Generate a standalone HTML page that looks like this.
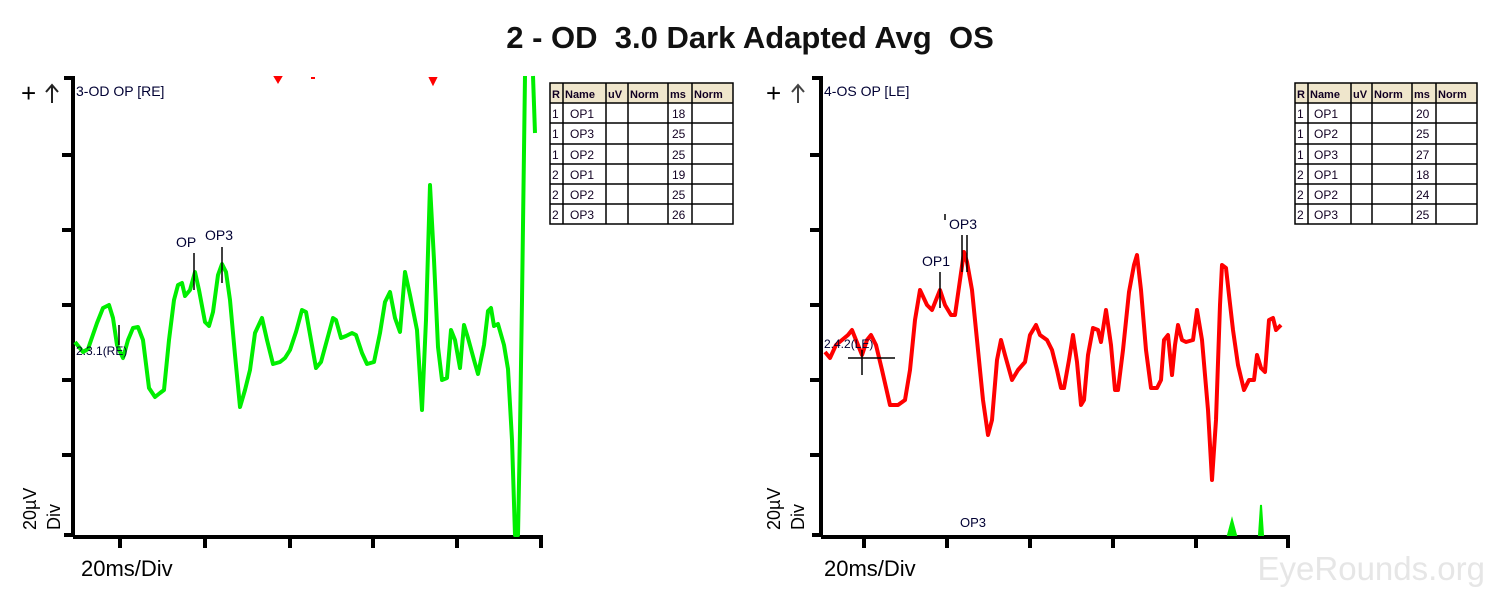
<!DOCTYPE html>
<html><head><meta charset="utf-8"><style>
body{margin:0;background:#fff;width:1500px;height:595px;overflow:hidden}
svg{display:block}
text{font-family:"Liberation Sans",Arial,sans-serif}
</style></head><body>
<svg width="1500" height="595" viewBox="0 0 1500 595">
<text x="750" y="48" font-size="31" font-weight="bold" text-anchor="middle" fill="#111" xml:space="preserve">2 - OD&#160; 3.0 Dark Adapted Avg&#160; OS</text>

<!-- LEFT PANEL -->
<g stroke="#000" stroke-width="4" fill="none">
<path d="M64,78 H73 V535 H64"/>
<path d="M62,155 H73 M62,230 H73 M62,305 H73 M62,380 H73 M62,455 H73"/>
<path d="M73,537 H543 M120,537 V548 M205,537 V548 M290,537 V548 M373,537 V548 M457,537 V548 M541,537 V548"/>
</g>
<text x="21" y="102" font-size="26" fill="#000">+</text>
<path d="M46,92 l6,-7 l6,7 M52,85 V103" stroke="#222" stroke-width="2" fill="none"/>
<text x="76" y="96" font-size="14" fill="#003">3-OD OP [RE]</text>
<text x="81" y="576" font-size="22" fill="#000">20ms/Div</text>
<text transform="translate(36,530) rotate(-90)" font-size="18" fill="#000">20µV</text>
<text transform="translate(60,530) rotate(-90)" font-size="18" fill="#000">Div</text>
<path d="M278,82 l-3,-5 h6 z M433,84 l-3,-6 h6 z" fill="#f00" stroke="#f00" stroke-width="2"/>
<path d="M311,78 h4" stroke="#f00" stroke-width="2"/>
<polyline fill="none" stroke="#00ee00" stroke-width="4" stroke-linejoin="round" points="75,342 83,352 88,349 97,323 103,308 109,305 113,318 117,345 123,358 128,340 133,328 138,327 143,340 149,388 155,397 160,393 164,390 169,340 174,300 178,285 182,283 185,296 190,290 195,272 199,290 205,322 209,326 213,312 218,275 222,264 226,272 230,300 235,355 240,407 245,390 250,370 255,333 262,318 267,340 273,364 280,362 285,358 290,350 296,332 302,310 306,312 311,340 316,368 321,362 327,340 333,318 336,320 341,338 346,336 352,333 356,335 362,353 367,364 374,362 380,333 385,302 390,292 395,318 400,332 405,272 410,295 417,330 422,410 426,320 430,185 434,260 438,347 442,380 447,378 451,330 455,340 460,368 464,325 468,338 474,360 478,374 484,345 488,311 491,308 494,326 498,324 504,345 508,369 512,440 515,535 518,535 520,430 522,300 525,76"/>
<path d="M533,76 L535,133" stroke="#00ee00" stroke-width="4"/>
<g stroke="#000" stroke-width="1.5">
<path d="M194,253 V290 M222,247 V283 M119,325 V345"/>
</g>
<text x="176" y="247" font-size="14" fill="#003">OP</text>
<text x="205" y="240" font-size="14" fill="#003">OP3</text>
<text x="76" y="355" font-size="12" fill="#003">2.3.1(RE)</text>

<!-- LEFT TABLE -->
<g font-size="11" font-weight="bold" fill="#102">
<rect x="550" y="83" width="183" height="20" fill="#efe6cc"/>
<g stroke="#000" stroke-width="1.5" fill="none">
<rect x="550" y="83" width="183" height="141"/>
<path d="M550,103 H733 M550,123 H733 M550,144 H733 M550,164 H733 M550,184 H733 M550,204 H733"/>
<path d="M563,83 V224 M606,83 V224 M628,83 V224 M668,83 V224 M692,83 V224"/>
</g>
<text x="552" y="98">R</text><text x="565" y="98">Name</text><text x="608" y="98">uV</text><text x="630" y="98">Norm</text><text x="670" y="98">ms</text><text x="694" y="98">Norm</text>
</g>
<g font-size="12" fill="#102">
<text x="552" y="118">1</text><text x="570" y="118">OP1</text><text x="672" y="118">18</text>
<text x="552" y="138">1</text><text x="570" y="138">OP3</text><text x="672" y="138">25</text>
<text x="552" y="159">1</text><text x="570" y="159">OP2</text><text x="672" y="159">25</text>
<text x="552" y="179">2</text><text x="570" y="179">OP1</text><text x="672" y="179">19</text>
<text x="552" y="199">2</text><text x="570" y="199">OP2</text><text x="672" y="199">25</text>
<text x="552" y="219">2</text><text x="570" y="219">OP3</text><text x="672" y="219">26</text>
</g>

<!-- RIGHT PANEL -->
<g stroke="#000" stroke-width="4" fill="none">
<path d="M812,78 H821 V535 H812"/>
<path d="M810,155 H821 M810,230 H821 M810,305 H821 M810,380 H821 M810,455 H821"/>
<path d="M821,537 H1290 M864,537 V548 M947,537 V548 M1030,537 V548 M1113,537 V548 M1196,537 V548 M1288,537 V548"/>
</g>
<text x="766" y="102" font-size="26" fill="#000">+</text>
<path d="M792,92 l6,-7 l6,7 M798,85 V103" stroke="#444" stroke-width="2" fill="none"/>
<text x="824" y="96" font-size="14" fill="#003">4-OS OP [LE]</text>
<text x="824" y="576" font-size="22" fill="#000">20ms/Div</text>
<text transform="translate(780,530) rotate(-90)" font-size="18" fill="#000">20µV</text>
<text transform="translate(804,530) rotate(-90)" font-size="18" fill="#000">Div</text>
<polyline fill="none" stroke="#ff0000" stroke-width="4" stroke-linejoin="round" points="825,352 830,358 836,345 842,340 848,335 852,330 856,340 862,355 867,340 871,335 876,345 882,370 890,405 898,405 905,400 910,370 915,320 920,290 927,305 932,310 940,290 945,305 951,315 955,315 960,280 964,252 967,262 972,290 977,340 983,400 988,435 992,420 997,360 1001,340 1005,355 1012,380 1018,370 1025,362 1030,335 1036,325 1040,335 1047,340 1052,350 1057,370 1061,388 1064,388 1069,360 1073,335 1077,362 1081,405 1084,400 1088,355 1093,328 1098,330 1101,342 1106,310 1111,345 1115,390 1118,390 1123,350 1129,292 1134,265 1137,255 1141,290 1146,350 1151,388 1157,388 1161,380 1164,340 1168,335 1172,375 1175,345 1178,325 1182,340 1186,342 1193,340 1197,310 1202,340 1208,410 1212,480 1216,420 1220,305 1222,265 1226,268 1229,295 1233,330 1238,365 1244,390 1249,380 1254,380 1257,355 1261,368 1265,372 1269,320 1273,318 1276,330 1281,325"/>
<path d="M1228,535 L1232,520 L1236,535 Z M1259,535 L1261,505 L1263,535 Z" fill="#00ee00" stroke="#00ee00" stroke-width="2"/>
<g stroke="#000" stroke-width="1.5">
<path d="M940,272 V308 M962,235 V272 M967,235 V272 M848,358 H895 M862,350 V375 M945,214 V220"/>
</g>
<text x="922" y="266" font-size="14" fill="#003">OP1</text>
<text x="949" y="229" font-size="14" fill="#003">OP3</text>
<text x="824" y="348" font-size="12" fill="#003">2.4.2(LE)</text>
<text x="960" y="527" font-size="13" fill="#003">OP3</text>

<!-- RIGHT TABLE -->
<g font-size="11" font-weight="bold" fill="#102">
<rect x="1295" y="83" width="182" height="20" fill="#efe6cc"/>
<g stroke="#000" stroke-width="1.5" fill="none">
<rect x="1295" y="83" width="182" height="141"/>
<path d="M1295,103 H1477 M1295,123 H1477 M1295,144 H1477 M1295,164 H1477 M1295,184 H1477 M1295,204 H1477"/>
<path d="M1308,83 V224 M1351,83 V224 M1372,83 V224 M1412,83 V224 M1436,83 V224"/>
</g>
<text x="1297" y="98">R</text><text x="1310" y="98">Name</text><text x="1353" y="98">uV</text><text x="1374" y="98">Norm</text><text x="1414" y="98">ms</text><text x="1438" y="98">Norm</text>
</g>
<g font-size="12" fill="#102">
<text x="1297" y="118">1</text><text x="1314" y="118">OP1</text><text x="1416" y="118">20</text>
<text x="1297" y="138">1</text><text x="1314" y="138">OP2</text><text x="1416" y="138">25</text>
<text x="1297" y="159">1</text><text x="1314" y="159">OP3</text><text x="1416" y="159">27</text>
<text x="1297" y="179">2</text><text x="1314" y="179">OP1</text><text x="1416" y="179">18</text>
<text x="1297" y="199">2</text><text x="1314" y="199">OP2</text><text x="1416" y="199">24</text>
<text x="1297" y="219">2</text><text x="1314" y="219">OP3</text><text x="1416" y="219">25</text>
</g>

<text x="1485" y="580" font-size="33" fill="#e6e6e6" text-anchor="end">EyeRounds.org</text>
</svg>
</body></html>
